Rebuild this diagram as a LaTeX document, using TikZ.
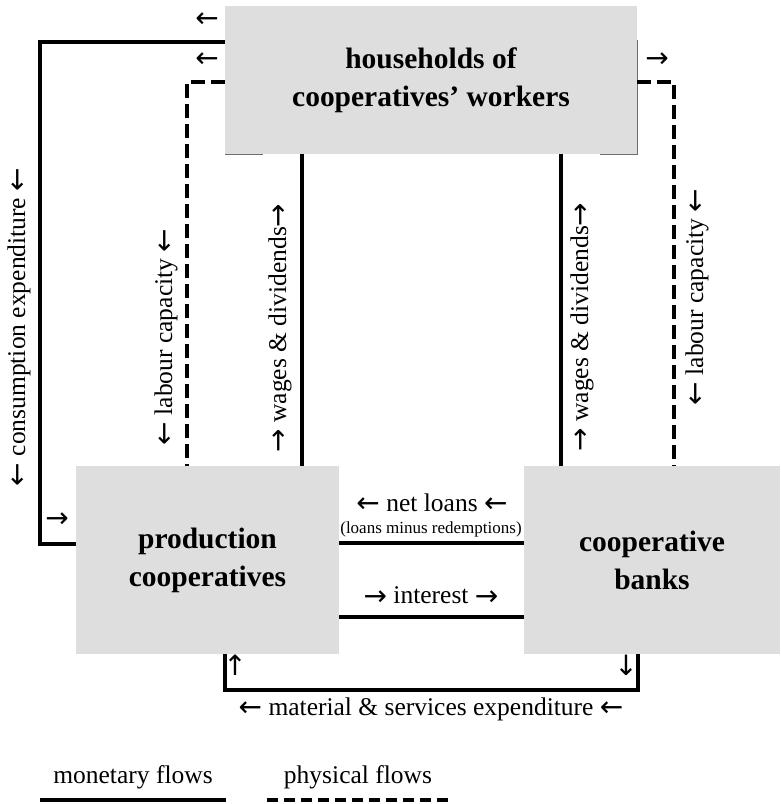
\documentclass[tikz,border=0pt]{standalone}
\usepackage{fontspec}
\setmainfont{Liberation Serif}
\newfontfamily\arrfont{DejaVu Sans}
\newcommand{\arrglyph}[1]{\raisebox{-1.5pt}{\arrfont\fontsize{28}{28}\selectfont #1}}
\newcommand{\arL}{\arrglyph{←}}
\newcommand{\arR}{\arrglyph{→}}
\newcommand{\arU}{\arrglyph{↑}}
\newcommand{\arD}{\arrglyph{↓}}
\definecolor{boxgray}{RGB}{222,222,222}
\definecolor{edgegray}{RGB}{110,110,110}
\begin{document}
\begin{tikzpicture}[x=1pt,y=-1pt,
  box/.style={fill=boxgray, draw=none, inner sep=0pt, align=center,
    font=\bfseries\fontsize{29.5}{38}\selectfont},
  mon/.style={line width=4.6pt, line join=miter, draw=black},
  phys/.style={line width=4.6pt, line join=miter, draw=black, dash pattern=on 14pt off 6pt},
  lbl/.style={inner sep=0pt, font=\fontsize{25.5}{28}\selectfont},
  small/.style={inner sep=0pt, font=\fontsize{17}{19}\selectfont},
  vlbl/.style={lbl, rotate=90}
]
\useasboundingbox (0,0) rectangle (780,804);

% boxes
\node[box, minimum width=412pt, minimum height=148pt] (hh) at (431,80)
  {households of\\cooperatives’ workers};
\node[box, minimum width=263pt, minimum height=188pt] (pc) at (207.5,560)
  {production\\cooperatives};
\node[box, minimum width=256pt, minimum height=188pt] (bk) at (652,560)
  {cooperative\\banks};

% frame remnants on household box
\draw[edgegray, line width=1.3pt] (hh.south west) -- ++(38,0);
\draw[edgegray, line width=1.3pt] ([xshift=-37pt]hh.south east) -- (hh.south east) -- ++(0,-114);

% helper coordinates
\coordinate (c1) at (40,42);
\coordinate (c2) at (40,544);
\coordinate (l1) at (187,82);
\coordinate (l2) at (674,82);
\coordinate (w1) at (302,0);
\coordinate (w2) at (561,0);
\coordinate (n1) at (0,543);
\coordinate (i1) at (0,617);
\coordinate (m1) at (225,690);
\coordinate (m2) at (638,690);

% flows
\draw[mon] (hh.west |- c1) -- (c1) -- (c2) -- (pc.west |- c2);
\draw[phys] (hh.west |- l1) -- (l1) -- (l1 |- pc.north);
\draw[mon] (w1 |- hh.south) -- (w1 |- pc.north);
\draw[mon] (w2 |- hh.south) -- (w2 |- bk.north);
\draw[phys] (hh.east |- l2) -- (l2) -- (l2 |- bk.north);
\draw[mon] (pc.east |- n1) -- (bk.west |- n1);
\draw[mon] (pc.east |- i1) -- (bk.west |- i1);
\draw[mon] (m1 |- pc.south) -- (m1) -- (m2) -- (m2 |- bk.south);

% arrow marks
\node[lbl] (a1) at (207,20) {\arL};
\node[lbl] (a2) at (207,60) {\arL};
\node[lbl] (a3) at (657,60) {\arR};
\node[lbl] (a4) at (57,520) {\arR};
\node[lbl] (a5) at (235,665) {\arU};
\node[lbl] (a6) at (626,665) {\arD};

% vertical labels
\node[vlbl] (tcons) at (19,327) {\arL{} consumption expenditure \arL};
\node[vlbl] (tlab1) at (166,337) {\arL{} labour capacity \arL};
\node[vlbl] (twag1) at (280,328) {\arR{} wages \& dividends\arR};
\node[vlbl] (twag2) at (582,327) {\arR{} wages \& dividends\arR};
\node[vlbl] (tlab2) at (697,297) {\arL{} labour capacity \arL};

% horizontal labels
\node[lbl] (tnet) at (432,503) {\arL{} net loans \arL};
\node[small] (tred) at (431,529) {(loans minus redemptions)};
\node[lbl] (tint) at (431,596) {\arR{} interest \arR};
\node[lbl] (tmat) at (431,709) {\arL{} material \& services expenditure \arL};

% legend
\node[lbl] (tmon) at (133,777) {monetary flows};
\node[lbl] (tphy) at (358,777) {physical flows};
\coordinate (g1) at (40,800);
\coordinate (g2) at (226,800);
\coordinate (g3) at (267,800);
\coordinate (g4) at (450,800);
\draw[mon] (g1) -- (g2);
\draw[mon, dash pattern=on 11pt off 6pt] (g3) -- (g4);
\end{tikzpicture}
\end{document}
